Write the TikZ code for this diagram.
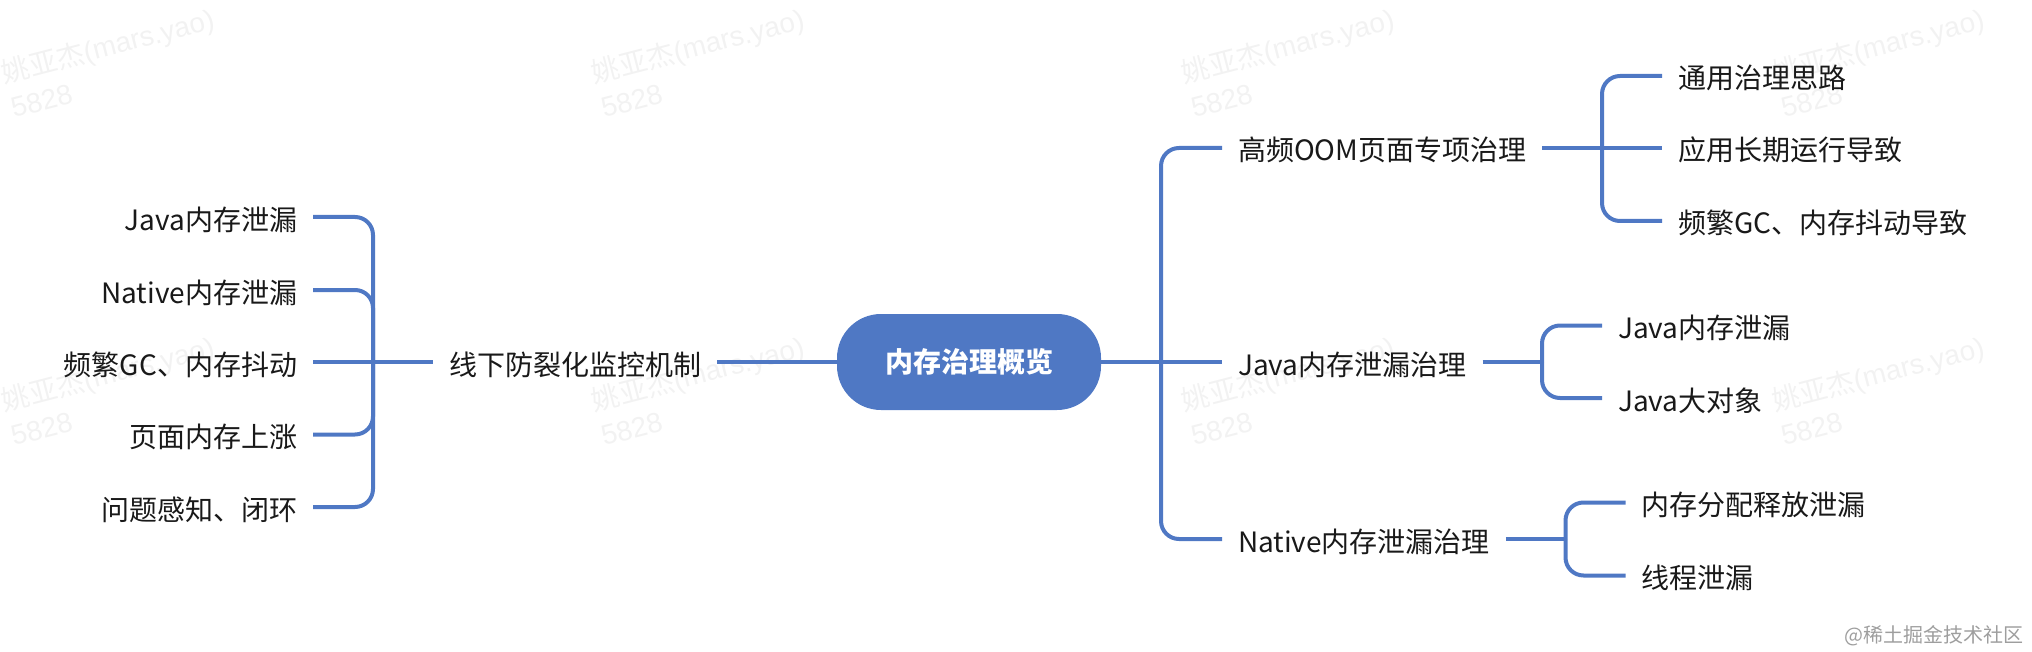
\documentclass[tikz,border=0pt]{standalone}
\usepackage{fontspec}
\setmainfont{Noto Sans CJK SC}
\newfontfamily\markfont{Liberation Sans}
\definecolor{linkblue}{HTML}{4F78C4}
\definecolor{markgray}{HTML}{F2F2F2}
\tikzset{
	topic/.style={inner xsep=8pt,inner ysep=0pt,outer sep=0pt,text height=13pt,text depth=0pt,font=\fontsize{14}{16}\selectfont,text=black!90},
	link/.style={draw=linkblue,line width=2pt,rounded corners=9pt},
	watermark/.style={rotate=14.5,text=markgray,align=left,inner sep=0pt,font=\fontsize{14}{18}\selectfont}
}
\begin{document}
\begin{tikzpicture}[x=0.5pt,y=-0.5pt]
	\useasboundingbox (0,0) rectangle (2032,652);
	\foreach \i/\xpos in {0/112,1/702,2/1292,3/1882}
		\foreach \j/\ypos in {0/62,1/390}
			\node[watermark] (mark\i\j) at (\xpos,\ypos) {姚亚杰{\markfont(mars.yao)}\\{\markfont 5828}};
	\node[fill=linkblue,text=white,rounded corners=22pt,minimum width=132pt,minimum height=48pt,inner sep=0pt,outer sep=0pt,font=\fontsize{14}{16}\bfseries\selectfont] (main) at (969,362) {内存治理概览};
	\coordinate (trunk) at (1161,362);
	\coordinate (busa) at (1602,148);
	\coordinate (busb) at (1542,362);
	\coordinate (busc) at (1565.5,539);
	\coordinate (busl) at (373,362);
	\node[topic,anchor=east] (offline) at (717,362) {线下防裂化监控机制};
	\node[topic,anchor=east] (ljava) at (313,217) {Java内存泄漏};
	\node[topic,anchor=east] (lnative) at (313,290) {Native内存泄漏};
	\node[topic,anchor=east] (lgc) at (313,362) {频繁GC、内存抖动};
	\node[topic,anchor=east] (lpage) at (313,434.5) {页面内存上涨};
	\node[topic,anchor=east] (lclose) at (313,507) {问题感知、闭环};
	\node[topic,anchor=west] (oom) at (1222,148) {高频OOM页面专项治理};
	\node[topic,anchor=west] (java) at (1222,362) {Java内存泄漏治理};
	\node[topic,anchor=west] (native) at (1222,539) {Native内存泄漏治理};
	\node[topic,anchor=west] (oomgen) at (1662,76) {通用治理思路};
	\node[topic,anchor=west] (oomrun) at (1662,148) {应用长期运行导致};
	\node[topic,anchor=west] (oomgc) at (1662,221) {频繁GC、内存抖动导致};
	\node[topic,anchor=west] (jleak) at (1602,325.5) {Java内存泄漏};
	\node[topic,anchor=west] (jbig) at (1602,398) {Java大对象};
	\node[topic,anchor=west] (nalloc) at (1625.5,502.5) {内存分配释放泄漏};
	\node[topic,anchor=west] (nthread) at (1625.5,575.5) {线程泄漏};
	\draw[link] (offline.east) -- (main.west);
	\draw[link] (main.east) -- (java.west);
	\draw[link] (oom.west) -| (trunk);
	\draw[link] (native.west) -| (trunk);
	\draw[link] (lgc.east) -- (offline.west);
	\draw[link] (ljava.east) -| (busl);
	\draw[link] (lnative.east) -| (busl);
	\draw[link] (lpage.east) -| (busl);
	\draw[link] (lclose.east) -| (busl);
	\draw[link] (oom.east) -- (oomrun.west);
	\draw[link] (oomgen.west) -| (busa);
	\draw[link] (oomgc.west) -| (busa);
	\draw[link] (java.east) -- (busb);
	\draw[link] (jleak.west) -| (busb);
	\draw[link] (jbig.west) -| (busb);
	\draw[link] (native.east) -- (busc);
	\draw[link] (nalloc.west) -| (busc);
	\draw[link] (nthread.west) -| (busc);
	\node[anchor=east,inner sep=0pt,text=black!38,font=\fontsize{10}{12}\selectfont] (brand) at (2024,636) {@稀土掘金技术社区};
\end{tikzpicture}
\end{document}
